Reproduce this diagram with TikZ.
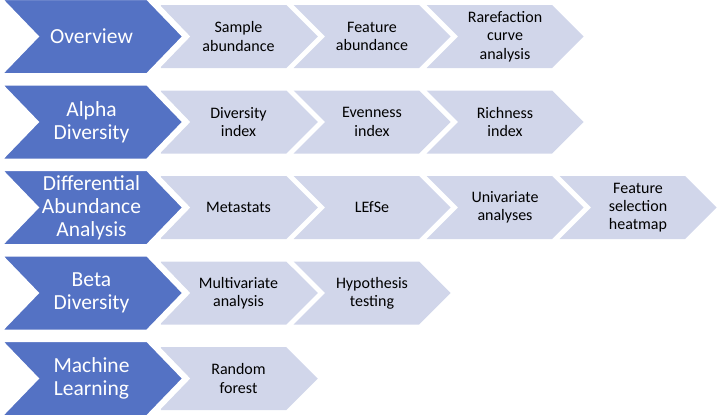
\documentclass[tikz,border=0pt]{standalone}
\usepackage{fontspec}
\setmainfont{Carlito}
\usetikzlibrary{shapes.symbols, positioning, backgrounds}
\definecolor{topicblue}{RGB}{84,114,196}
\definecolor{itemgray}{RGB}{209,214,234}

\begin{document}
\begin{tikzpicture}
	[on grid, node distance=133pt,
	 topic/.style={signal, signal from=west, signal to=east, signal pointer angle=92,
	   fill=topicblue, draw=white, line width=6pt, minimum width=189pt, minimum height=79pt,
	   inner sep=0pt, text=white, align=center, font=\fontsize{21.5}{23}\selectfont},
	 itemtext/.style={align=center, font=\fontsize{16}{18.3}\selectfont},
	 item/.style={signal, signal from=west, signal to=east, signal pointer angle=90,
	   fill=itemgray, minimum width=157pt, minimum height=63pt, inner sep=0pt, itemtext},
	 firstitem/.style={item, signal from=nowhere,
	   label={[itemtext, xshift=15pt]center:#1}}]
   \useasboundingbox (0,0) rectangle (719pt,-415pt);
   % topics
   \node[topic] (ov) at (91.5pt,-36.5pt) {Overview};
   \node[topic] (alpha) [below=85.5pt of ov] {Alpha\\Diversity};
   \node[topic] (diff) [below=85.5pt of alpha] {Differential\\Abundance\\Analysis};
   \node[topic] (beta) [below=85.5pt of diff] {Beta\\Diversity};
   \node[topic] (ml) [below=85.5pt of beta] {Machine\\Learning};
   % items
   \begin{scope}[on background layer]
   \node[firstitem={Sample\\abundance}] (ov1) [right=132pt of ov] {};
   \node[item] (ov2) [right=148.5pt of ov1] {Feature\\abundance};
   \node[item] (ov3) [right=of ov2] {Rarefaction\\curve\\analysis};
   \node[firstitem={Diversity\\index}] (alpha1) [right=132pt of alpha] {};
   \node[item] (alpha2) [right=148.5pt of alpha1] {Evenness\\index};
   \node[item] (alpha3) [right=of alpha2] {Richness\\index};
   \node[firstitem={Metastats}] (diff1) [right=132pt of diff] {};
   \node[item] (diff2) [right=148.5pt of diff1] {LEfSe};
   \node[item] (diff3) [right=of diff2] {Univariate\\analyses};
   \node[item] (diff4) [right=of diff3] {Feature\\selection\\heatmap};
   \node[firstitem={Multivariate\\analysis}] (beta1) [right=132pt of beta] {};
   \node[item] (beta2) [right=148.5pt of beta1] {Hypothesis\\testing};
   \node[firstitem={Random\\forest}] (ml1) [right=132pt of ml] {};
   \end{scope}
\end{tikzpicture}
\end{document}
